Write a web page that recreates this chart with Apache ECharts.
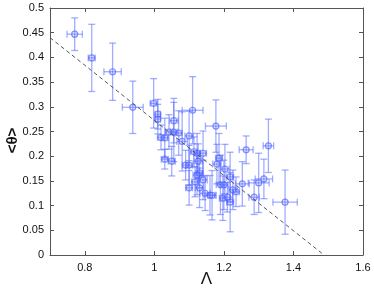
<!DOCTYPE html>
<html><head><meta charset="utf-8">
<script src="https://cdn.jsdelivr.net/npm/echarts@6/dist/echarts.min.js"></script>
<style>html,body{margin:0;padding:0;background:#fff}#c{width:374px;height:290px}</style>
</head><body><div id="c"></div>
<script>
var lambda = [0.771,0.82,0.88,0.938,0.998,1.01,1.01,1.019,1.03,1.042,1.056,1.056,1.07,1.08,1.11,1.10,1.03,1.123,1.14,1.10,1.126,1.13,1.14,1.10,1.13,1.146,1.177,1.186,1.18,1.203,1.218,1.19,1.197,1.218,1.166,1.226,1.253,1.235,1.264,1.328,1.30,1.315,1.287,1.376,1.114,1.117,1.123,1.16,1.20,1.21,1.09,1.05];
var theta = [0.447,0.399,0.371,0.299,0.307,0.285,0.275,0.238,0.194,0.249,0.272,0.249,0.247,0.23,0.293,0.241,0.237,0.206,0.206,0.182,0.19,0.166,0.152,0.136,0.136,0.125,0.261,0.196,0.184,0.174,0.158,0.142,0.115,0.107,0.121,0.132,0.144,0.128,0.213,0.221,0.146,0.154,0.117,0.107,0.209,0.148,0.162,0.121,0.142,0.117,0.182,0.19];
var lambdaErr = [0.022,0.01,0.025,0.03,0.01,0.008,0.008,0.01,0.01,0.01,0.012,0.01,0.01,0.015,0.03,0.012,0.01,0.01,0.01,0.01,0.012,0.01,0.012,0.01,0.012,0.015,0.03,0.01,0.012,0.012,0.01,0.012,0.01,0.01,0.012,0.012,0.02,0.01,0.02,0.015,0.03,0.025,0.015,0.035,0.01,0.01,0.012,0.015,0.012,0.015,0.01,0.01];
var thetaErr = [0.033,0.068,0.058,0.053,0.05,0.03,0.03,0.025,0.02,0.035,0.045,0.06,0.045,0.06,0.068,0.05,0.04,0.04,0.045,0.04,0.035,0.03,0.04,0.035,0.04,0.035,0.053,0.05,0.04,0.05,0.05,0.06,0.045,0.06,0.05,0.04,0.045,0.03,0.028,0.054,0.06,0.04,0.035,0.065,0.03,0.03,0.04,0.04,0.05,0.03,0.03,0.03];
var fitX = [0.7, 1.488];
var fitY = [0.44, 0];
var xTicks = [0.8, 1, 1.2, 1.4, 1.6];

var errData = lambda.map(function(x,i){return [x, theta[i], lambdaErr[i], thetaErr[i]];});
var ptData = lambda.map(function(x,i){return [x, theta[i]];});
var fitData = fitX.map(function(x,i){return [x, fitY[i]];});

var ebColor = 'rgba(85,105,255,0.55)';
function renderErr(params, api){
  var x = api.value(0), y = api.value(1), xe = api.value(2), ye = api.value(3);
  var c = api.coord([x,y]);
  var top = api.coord([x, y+ye]), bot = api.coord([x, y-ye]);
  var lft = api.coord([x-xe, y]), rgt = api.coord([x+xe, y]);
  var cw = 3.5;
  var st = {stroke: ebColor, lineWidth: 1.3, fill: null};
  function ln(a,b,c2,d){return {type:'line', shape:{x1:a,y1:b,x2:c2,y2:d}, style:st};}
  return {type:'group', children:[
    ln(c[0], top[1], c[0], bot[1]),
    ln(c[0]-cw, top[1], c[0]+cw, top[1]),
    ln(c[0]-cw, bot[1], c[0]+cw, bot[1]),
    ln(lft[0], c[1], rgt[0], c[1]),
    ln(lft[0], c[1]-cw, lft[0], c[1]+cw),
    ln(rgt[0], c[1]-cw, rgt[0], c[1]+cw)
  ]};
}

var axisLineStyle = {color:'#555', width:1};
var font = 'Liberation Sans, Arial, sans-serif';
var chart = echarts.init(document.getElementById('c'), null, {renderer:'canvas'});
chart.setOption({
  animation:false,
  grid:{left:50, right:11, top:8, bottom:35, containLabel:false, outerBoundsMode:'none'},
  xAxis:[{
    type:'value', min:0.7, max:1.6, position:'bottom',
    axisLine:{show:true, onZero:false, lineStyle:axisLineStyle},
    axisTick:{show:true, inside:true, length:4, customValues:xTicks, lineStyle:axisLineStyle},
    axisLabel:{customValues:xTicks, color:'#111', fontSize:11, fontFamily:font, margin:7},
    splitLine:{show:false},
    name:'Λ', nameLocation:'middle', nameGap:16, nameMoveOverlap:false,
    nameTextStyle:{fontSize:17, color:'#111', fontFamily:font}
  },{
    type:'value', min:0.7, max:1.6, position:'top',
    axisLine:{show:true, onZero:false, lineStyle:axisLineStyle},
    axisTick:{show:true, inside:true, length:4, customValues:xTicks, lineStyle:axisLineStyle},
    axisLabel:{show:false}, splitLine:{show:false}
  }],
  yAxis:[{
    type:'value', min:0, max:0.5, interval:0.05, position:'left',
    axisLine:{show:true, onZero:false, lineStyle:axisLineStyle},
    axisTick:{show:true, inside:true, length:4, lineStyle:axisLineStyle},
    axisLabel:{color:'#111', fontSize:11, fontFamily:font, margin:6},
    splitLine:{show:false},
    name:'<θ>', nameLocation:'middle', nameGap:30, nameRotate:90, nameMoveOverlap:false,
    nameTextStyle:{fontSize:15, fontWeight:'bold', color:'#111', fontFamily:font, padding:[0,18,0,0]}
  },{
    type:'value', min:0, max:0.5, interval:0.05, position:'right',
    axisLine:{show:true, onZero:false, lineStyle:axisLineStyle},
    axisTick:{show:true, inside:true, length:4, lineStyle:axisLineStyle},
    axisLabel:{show:false}, splitLine:{show:false}
  }],
  series:[
    {type:'line', data:fitData, symbol:'none', silent:true,
     lineStyle:{color:'#444', width:0.9, type:[4,3]}},
    {type:'custom', data:errData, renderItem:renderErr, encode:{x:0,y:1}, silent:true},
    {type:'scatter', data:ptData, symbol:'circle', symbolSize:6,
     itemStyle:{color:'rgba(120,140,255,0.25)', borderColor:'rgba(70,90,255,0.8)', borderWidth:1.2}}
  ]
});
</script></body></html>
